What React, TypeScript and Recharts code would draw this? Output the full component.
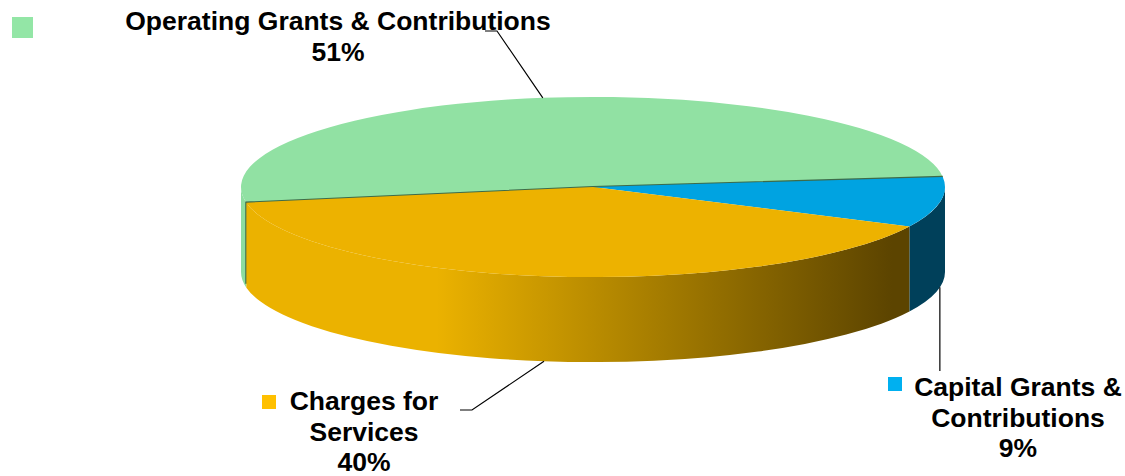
import React from 'react';
import { PieChart, Pie } from 'recharts';

// revenue sources
const names = ['Operating Grants & Contributions', 'Capital Grants & Contributions', 'Charges for Services'];
const values = [51, 9, 40];
const topColors = ['#91e1a3', '#00a3e1', '#edb200'];
const wallFrom = ['#8ddd9f', '#004c68', '#ebb200'];
const wallTo = ['#8ddd9f', '#00405a', '#5c4400'];
const keyColors = ['#93e6a6', '#00b0f0', '#ffc000'];
const labelLines = [
    ['Operating Grants & Contributions'],
    ['Capital Grants &', 'Contributions'],
    ['Charges for', 'Services'],
];

const data = names.map((name, i) => ({ name, value: values[i] }));

const W = 1125;
const H = 476;
const CX = 593;
const CY = 187;
const R = 352;
const TILT = 0.256;
const DEPTH = 85;
const FONT = '"Liberation Sans", Arial, sans-serif';

const rad = (a: number) => (a * Math.PI) / 180;
const pt = (cx: number, cy: number, rx: number, ry: number, a: number) => [
    cx + rx * Math.cos(rad(a)),
    cy - ry * Math.sin(rad(a)),
];

const Slice3D = (props: any) => {
    const { cx, cy, outerRadius, startAngle, endAngle, index } = props;
    const rx = outerRadius;
    const ry = outerRadius * TILT;
    const a0 = startAngle;
    const a1 = endAngle;
    const lo = Math.min(a0, a1);
    const hi = Math.max(a0, a1);
    const [x0, y0] = pt(cx, cy, rx, ry, a0);
    const [x1, y1] = pt(cx, cy, rx, ry, a1);
    const large = hi - lo > 180 ? 1 : 0;
    const sweep = a1 < a0 ? 1 : 0;
    const top = `M${cx},${cy} L${x0},${y0} A${rx},${ry} 0 ${large} ${sweep} ${x1},${y1} Z`;

    // front facing wall pieces (math angle between 180 and 360)
    const walls: string[] = [];
    for (let k = -2; k <= 1; k++) {
        const s = Math.max(lo, 180 + 360 * k);
        const e = Math.min(hi, 360 + 360 * k);
        if (e - s > 0.01) {
            const [ex, ey] = pt(cx, cy, rx, ry, e);
            const [sx, sy] = pt(cx, cy, rx, ry, s);
            walls.push(
                `M${ex},${ey} A${rx},${ry} 0 0 1 ${sx},${sy} L${sx},${sy + DEPTH} A${rx},${ry} 0 0 0 ${ex},${ey + DEPTH} Z`
            );
        }
    }
    const gid = `wall-${index}`;
    return (
        <g>
            <defs>
                <linearGradient id={gid} gradientUnits="userSpaceOnUse" x1={cx - rx} y1={0} x2={cx + rx * 0.85} y2={0}>
                    <stop offset="0%" stopColor={wallFrom[index]} />
                    <stop offset="30%" stopColor={wallFrom[index]} />
                    <stop offset="100%" stopColor={wallTo[index]} />
                </linearGradient>
            </defs>
            {walls.map((d, i) => (
                <path key={i} d={d} fill={`url(#${gid})`} stroke="none" />
            ))}
            <path d={top} fill={topColors[index]} stroke="none" />
            {index === 0 && (
                <path
                    d={`M${x1},${y1} L${cx},${cy} L${x0},${y0} L${x0},${y0 + DEPTH - 4}`}
                    fill="none"
                    stroke="#3d6b4a"
                    strokeWidth={2.2}
                />
            )}
        </g>
    );
};

// label layout: text centre, first baseline, key square
const labelPos = [
    { tx: 338, ty: 30, key: [12, 17, 21], line: [[497, 31], [485, 31]], onWall: false },
    { tx: 1018, ty: 396, key: [888, 377, 14], line: [[938, 371]], onWall: true },
    { tx: 364, ty: 410, key: [262, 395, 14], line: [[472, 410], [460, 410]], onWall: true },
];

const renderLabel = (props: any) => {
    const { cx, cy, outerRadius, midAngle, index, percent } = props;
    const p = labelPos[index];
    const rx = outerRadius;
    const ry = outerRadius * TILT;
    let [ax, ay] = pt(cx, cy, rx, ry, midAngle);
    if (p.onWall) ay += DEPTH;
    const pts = [[ax, ay], ...p.line.map((q) => (q[0] === 938 ? [ax, q[1]] : q))];
    const lines = [...labelLines[index], `${Math.round(percent * 100)}%`];
    return (
        <g>
            <polyline points={pts.map((q) => q.join(',')).join(' ')} fill="none" stroke="#000" strokeWidth={1.2} />
            <rect x={p.key[0]} y={p.key[1]} width={p.key[2]} height={p.key[2]} fill={keyColors[index]} />
            <text x={p.tx} y={p.ty} textAnchor="middle" fontFamily={FONT} fontWeight="bold" fontSize={26.5} fill="#000">
                {lines.map((l, i) => (
                    <tspan key={i} x={p.tx} dy={i === 0 ? 0 : 30.5}>
                        {l}
                    </tspan>
                ))}
            </text>
        </g>
    );
};

export default function App() {
    return (
        <div style={{ width: W, height: H, background: '#fff' }}>
            <style>{'body{margin:0}'}</style>
            <PieChart width={W} height={H} margin={{ top: 0, right: 0, bottom: 0, left: 0 }}>
                <Pie
                    data={data}
                    dataKey="value"
                    nameKey="name"
                    cx={CX}
                    cy={CY}
                    outerRadius={R}
                    startAngle={190}
                    endAngle={-170}
                    stroke="none"
                    shape={Slice3D}
                    activeShape={Slice3D}
                    inactiveShape={Slice3D}
                    label={renderLabel}
                    labelLine={false}
                    isAnimationActive={false}
                />
            </PieChart>
        </div>
    );
}
